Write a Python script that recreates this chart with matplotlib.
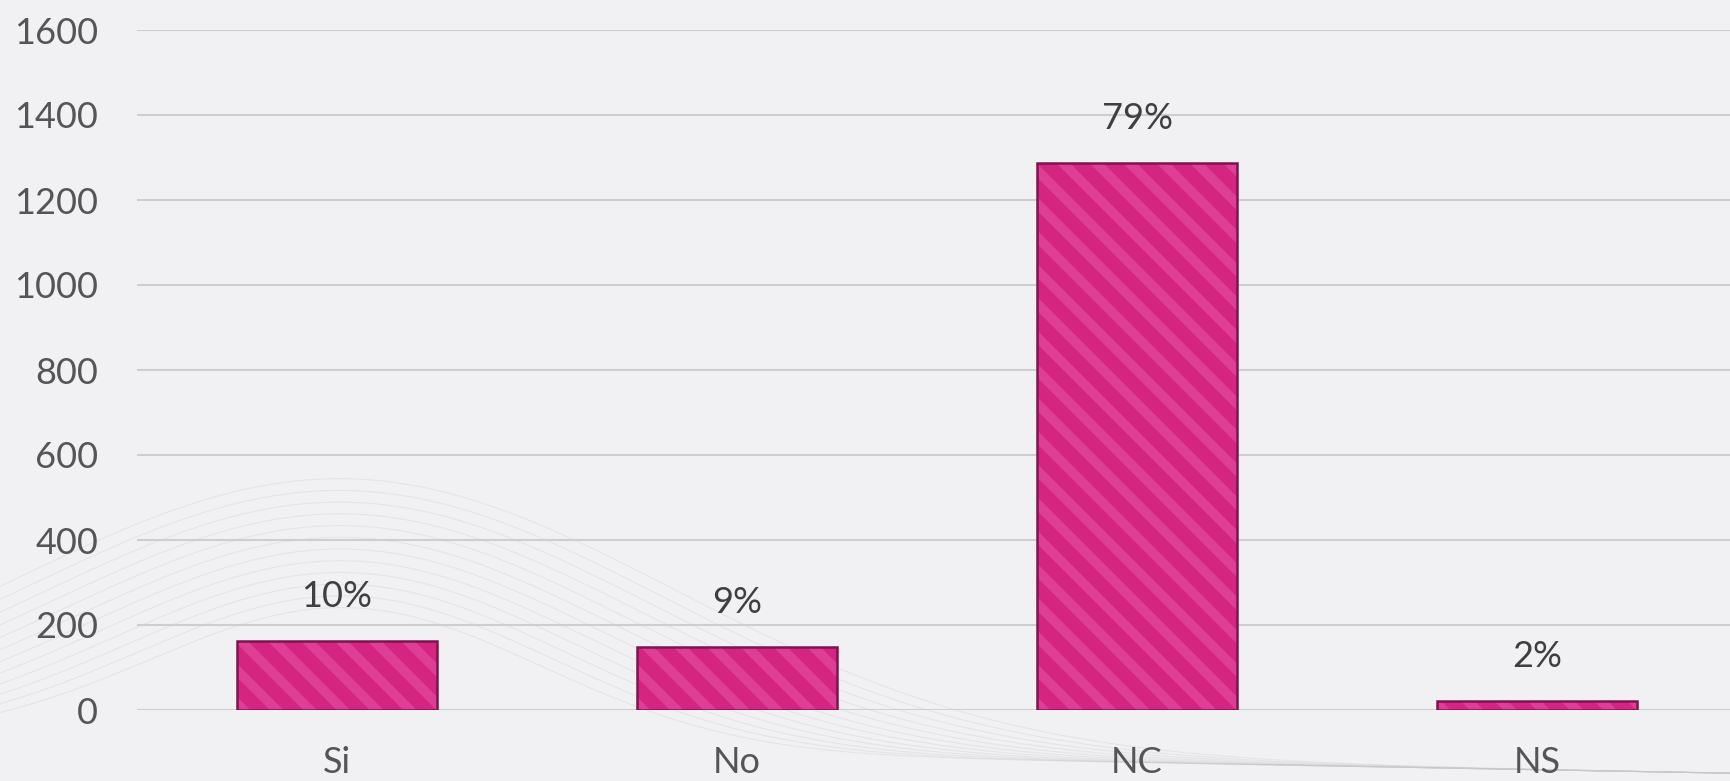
import numpy as np
import matplotlib.pyplot as plt

categories = ['Si', 'No', 'NC', 'NS']
counts = [163, 148, 1287, 22]
pct_labels = ['10%', '9%', '79%', '2%']
yticks = [0, 200, 400, 600, 800, 1000, 1200, 1400, 1600]

plt.rcParams['font.family'] = ['Lato', 'DejaVu Sans']
plt.rcParams['hatch.linewidth'] = 7

W, H = 1731, 781
fig = plt.figure(figsize=(W / 100, H / 100), dpi=100)
fig.patch.set_facecolor('#f1f1f4')

# faint decorative swirl lines in the background
bg = fig.add_axes([0, 0, 1, 1], zorder=-5)
bg.set_xlim(0, 1)
bg.set_ylim(0, 1)
bg.axis('off')
t = np.linspace(0, 1, 400)
for k in range(12):
    amp = 0.18 + 0.015 * k
    yy = 0.05 + amp * np.exp(-((t - 0.2) / (0.16 + 0.01 * k)) ** 2) - 0.04 * t
    bg.plot(t, yy, color='#c8c8cc', lw=0.8, alpha=0.3)

ax = fig.add_axes([137 / W, (H - 710) / H, 1594 / W, 680 / H])
ax.patch.set_alpha(0)

x = np.arange(len(categories))
ax.bar(x, counts, width=0.5, color='#d42681', edgecolor='#de3f95',
       linewidth=0, hatch='\\', zorder=3)
ax.bar(x, counts, width=0.5, fill=False, edgecolor='#7c1450',
       linewidth=1.8, zorder=4)

for xi, v, lab in zip(x, counts, pct_labels):
    ax.annotate(lab, (xi, v), xytext=(0, 28), textcoords='offset pixels',
                ha='center', va='bottom', fontsize=26, color='#3f3f3f')

ax.set_ylim(0, 1600)
ax.set_xlim(-0.5, 3.485)
ax.set_yticks(yticks)
ax.set_xticks(x)
ax.set_xticklabels(categories)
ax.yaxis.grid(True, color='#cdcdd2', lw=1.5, zorder=0)
ax.set_axisbelow(True)
for s in ax.spines.values():
    s.set_visible(False)
ax.tick_params(axis='y', length=0, pad=28, labelsize=26, labelcolor='#555555')
ax.tick_params(axis='x', length=0, pad=26, labelsize=26, labelcolor='#555555')

fig.savefig('out.png', dpi=100, facecolor=fig.get_facecolor())
